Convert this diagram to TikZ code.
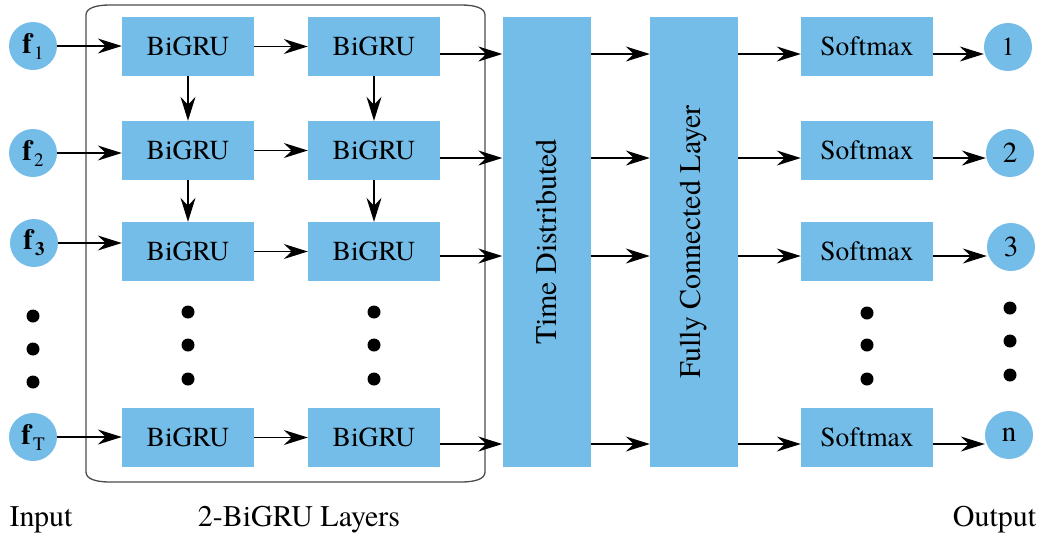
\documentclass[tikz,border=0pt]{standalone}
\usepackage{fontspec}
\setmainfont{texgyretermes}[Extension=.otf, UprightFont=*-regular, BoldFont=*-bold,
  ItalicFont=*-italic, BoldItalicFont=*-bolditalic]
\usetikzlibrary{arrows.meta}
\definecolor{boxblue}{RGB}{116,189,232}
% bold feature symbol with a lowered index
\newcommand\featsym[1]{\textbf{f}\kern0.5pt\raisebox{-6pt}{\fontsize{19}{19}\selectfont #1}}
\begin{document}
\begin{tikzpicture}[x=1pt,y=-1pt,
  blk/.style={fill=boxblue, draw=none, minimum width=132pt, minimum height=59pt,
    inner sep=0pt, font=\fontsize{27.5}{30}\selectfont},
  tall/.style={fill=boxblue, draw=none, minimum width=88pt, minimum height=450pt, inner sep=0pt},
  vtext/.style={rotate=90, font=\fontsize{30}{32}\selectfont, inner sep=0pt},
  io/.style={circle, fill=boxblue, draw=none, minimum size=48pt, inner sep=0pt,
    font=\fontsize{29}{30}\selectfont},
  dotmark/.style={circle, fill=black, draw=none, minimum size=13pt, inner sep=0pt},
  arr/.style={-{Stealth[length=24pt,width=15pt,inset=8pt]}, line width=1.4pt},
  frame/.style={draw=black!70, line width=1.3pt},
  lbl/.style={anchor=base, font=\fontsize{30}{32}\selectfont, inner sep=0pt}
]
\useasboundingbox (0,0) rectangle (1048,539);

% group frame around the two recurrent layers
\draw[frame] (86,15) .. controls (86,8) and (96,5) .. (110,5) -- (461,5)
  .. controls (475,5) and (485,8) .. (485,15) -- (485,472)
  .. controls (485,479) and (475,482) .. (461,482) -- (110,482)
  .. controls (96,482) and (86,479) .. (86,472) -- cycle;

% inputs
\node[io] (f1) at (33,46)  {\featsym{1}};
\node[io] (f2) at (33,153) {\featsym{2}};
\node[io] (f3) at (34,243) {\featsym{\textbf{3}}};
\node[io] (fT) at (33,437) {\featsym{T}};
\node[dotmark] (fd1) at (33,316) {};
\node[dotmark] (fd2) at (33,349) {};
\node[dotmark] (fd3) at (33,382) {};

% BiGRU layers
\foreach \r/\y in {1/46.5, 2/150.5, 3/251.5, T/437.5} {
  \node[blk] (a\r) at (188,\y) {BiGRU};
  \node[blk] (b\r) at (374,\y) {BiGRU};
}
\node[dotmark] (ad1) at (188,312) {};
\node[dotmark] (ad2) at (188,345) {};
\node[dotmark] (ad3) at (188,379) {};
\node[dotmark] (bd1) at (374,312) {};
\node[dotmark] (bd2) at (374,345) {};
\node[dotmark] (bd3) at (374,379) {};

% time distributed and dense layers
\node[tall] (td) at (546.5,242) {};
\node[vtext] (tdtext) at (td.center) {Time Distributed};
\node[tall] (fc) at (694,242) {};
\node[vtext] (fctext) at (fc.center) {Fully Connected Layer};

% softmax outputs
\foreach \r/\y in {1/46.5, 2/150.5, 3/251.5, n/437.5} {
  \node[blk] (s\r) at (867,\y) {Softmax};
}
\node[dotmark] (sd1) at (867,313) {};
\node[dotmark] (sd2) at (867,345) {};
\node[dotmark] (sd3) at (867,379) {};

\node[io] (o1) at (1008,47)  {\fontsize{26}{28}\selectfont 1};
\node[io] (o2) at (1010,153) {2};
\node[io] (o3) at (1011,247) {3};
\node[io] (on) at (1009,435) {n};
\node[dotmark] (od1) at (1010,308) {};
\node[dotmark] (od2) at (1010,341) {};
\node[dotmark] (od3) at (1010,375) {};

% row levels of the connectors on the right-hand side
\coordinate (r1) at (0,54);
\coordinate (r2) at (0,158);
\coordinate (r3) at (0,256);
\coordinate (rT) at (0,444);

% connectors
\draw[arr] (f1.east) -- (f1.east -| a1.west);
\draw[arr] (f2.east) -- (f2.east -| a2.west);
\draw[arr] (f3.east) -- (f3.east -| a3.west);
\draw[arr] (fT.east) -- (fT.east -| aT.west);

\foreach \r in {1,2,3,T} {
  \draw[arr] (a\r.east) -- (b\r.west);
}
\draw[arr] (a1.south) -- (a2.north);
\draw[arr] (a2.south) -- (a3.north);
\draw[arr] (b1.south) -- (b2.north);
\draw[arr] (b2.south) -- (b3.north);

\foreach \r/\s/\o in {1/1/1, 2/2/2, 3/3/3, T/n/n} {
  \draw[arr] (b\r.east |- r\r) -- (td.west |- r\r);
  \draw[arr] (td.east |- r\r) -- (fc.west |- r\r);
  \draw[arr] (fc.east |- r\r) -- (s\s.west |- r\r);
  \draw[arr] (s\s.east |- r\r) -- (o\o.west |- r\r);
}

% captions
\node[lbl] (capin) at (41,526) {Input};
\node[lbl] (capmid) at (299,526) {2-BiGRU Layers};
\node[lbl] (capout) at (994.5,526) {Output};
\end{tikzpicture}
\end{document}
